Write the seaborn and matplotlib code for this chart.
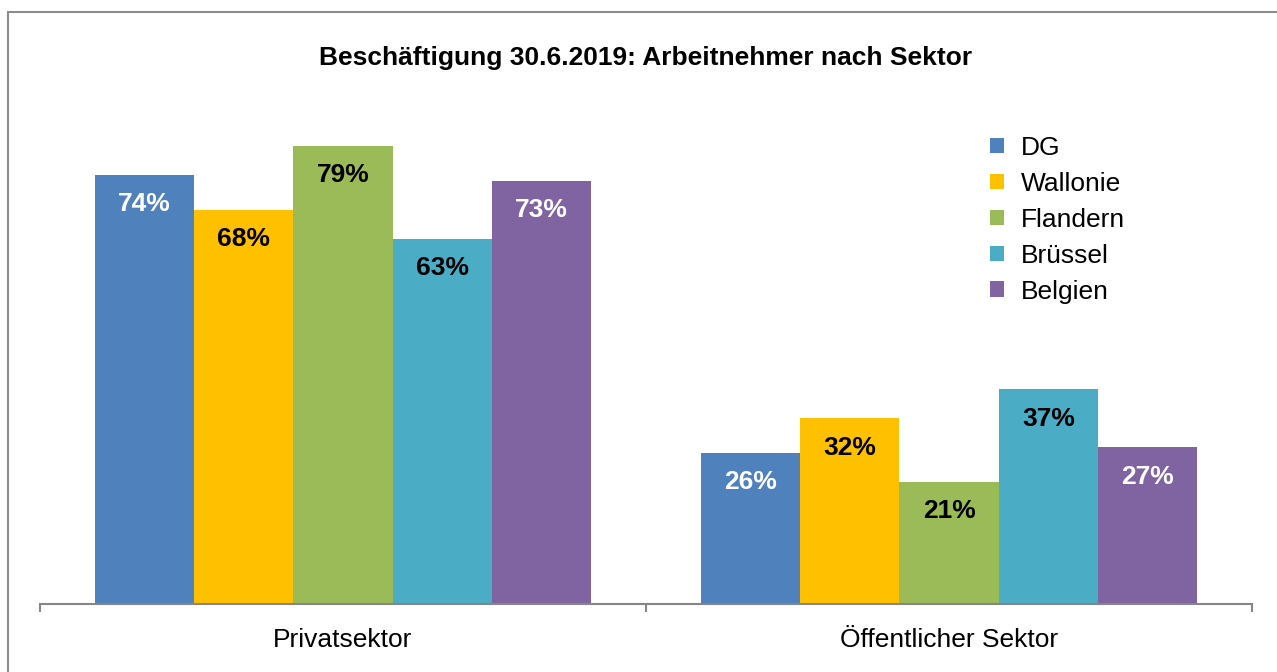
import pandas as pd
import matplotlib.pyplot as plt
import seaborn as sns
from matplotlib.lines import Line2D

# Daten
sektoren = ['Privatsektor', 'Öffentlicher Sektor']
regionen = ['DG', 'Wallonie', 'Flandern', 'Brüssel', 'Belgien']
privat = [74, 68, 79, 63, 73]
oeffentlich = [26, 32, 21, 37, 27]

farben = ['#4F81BD', '#FFC000', '#9BBB59', '#4BACC6', '#8064A2']
label_farben = ['white', 'black', 'black', 'black', 'white']

df = pd.DataFrame({
    'Sektor': [sektoren[0]] * 5 + [sektoren[1]] * 5,
    'Region': regionen * 2,
    'Anteil': privat + oeffentlich,
})

sns.set_theme(style='white')
plt.rcParams['font.family'] = ['Liberation Sans', 'DejaVu Sans']
plt.rcParams['text.color'] = 'black'

fig = plt.figure(figsize=(12.77, 6.72), dpi=100)
W, H = 1277, 672
ax = fig.add_axes([40 / W, 1 - 604 / H, (1252 - 40) / W, (604 - 100) / H])

sns.barplot(data=df, x='Sektor', y='Anteil', hue='Region', order=sektoren,
            hue_order=regionen, palette=farben, saturation=1, width=0.82,
            linewidth=0, ax=ax)

ax.set_ylim(0, 504 / 5.8)
ax.set_xlim(-0.5, 1.5)

# Datenbeschriftungen innerhalb der Balken
for cont, farbe in zip(ax.containers, label_farben):
    for bar in cont:
        h = bar.get_height()
        ax.annotate(f'{h:.0f}%', (bar.get_x() + bar.get_width() / 2, h),
                    xytext=(0, -21), textcoords='offset points',
                    ha='center', va='center', fontsize=19,
                    fontweight='bold', color=farbe)

# Achsen
for s in ['top', 'right', 'left']:
    ax.spines[s].set_visible(False)
ax.spines['bottom'].set_color('#868686')
ax.spines['bottom'].set_linewidth(1.5)
ax.set_yticks([])
ax.set_xlabel('')
ax.set_ylabel('')
ax.tick_params(axis='x', which='major', bottom=False, length=0, pad=17,
               labelsize=19, labelcolor='black')
ax.set_xticks([-0.5, 0.5, 1.5], minor=True)
ax.tick_params(axis='x', which='minor', bottom=True, length=6, width=1.5,
               color='#868686', direction='out')

# Legende
handles, labels = ax.get_legend_handles_labels()
leg = ax.legend(handles, labels, loc='upper left', frameon=False, fontsize=19,
                bbox_to_anchor=(990 / W, 1 - 136 / H),
                bbox_transform=fig.transFigure,
                handlelength=0.52, handleheight=0.52, handletextpad=0.65,
                labelspacing=0.45, borderaxespad=0, borderpad=0)
for t in leg.get_texts():
    t.set_color('black')

fig.text(646 / W, 1 - 58 / H, 'Beschäftigung 30.6.2019: Arbeitnehmer nach Sektor',
         ha='center', va='center', fontsize=19, fontweight='bold',
         color='black')

# Rahmen
fig.add_artist(Line2D([8 / W, 1], [1 - 12 / H, 1 - 12 / H], color='#8c8c8c',
                      lw=1.5, transform=fig.transFigure))
fig.add_artist(Line2D([8 / W, 8 / W], [1 - 12 / H, 0], color='#8c8c8c',
                      lw=1.5, transform=fig.transFigure))

fig.savefig('out.png', dpi=100)
